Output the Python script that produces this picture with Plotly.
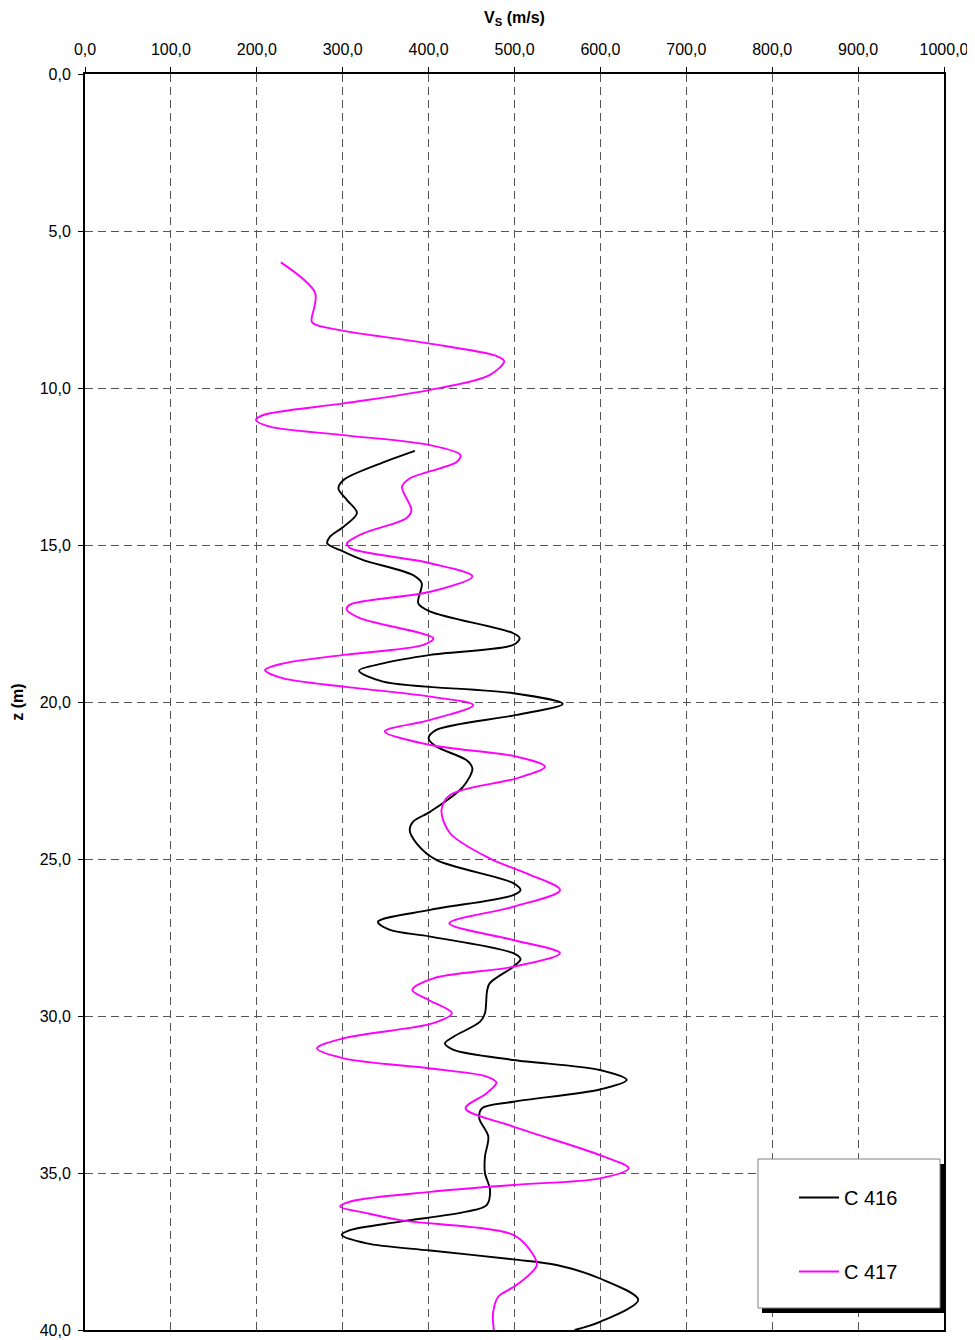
import plotly.graph_objects as go

# C 416 profile (depth z in m, Vs in m/s)
z_416 = [12.0, 12.45, 12.93, 13.2, 13.57, 13.98, 14.42, 14.74, 14.95, 15.21, 15.48, 15.96, 16.22, 16.86,
         17.12, 17.81, 17.97, 18.18, 18.5, 18.77, 19.0, 19.35, 19.72, 20.06, 20.41, 20.89, 21.16, 21.42,
         21.85, 22.11, 22.7, 23.49, 23.81, 24.08, 24.5, 25.03, 25.77, 25.99, 26.15, 26.62, 27.0, 27.26,
         27.47, 28.0, 28.19, 28.43, 28.96, 29.22, 29.91, 30.18, 30.66, 30.87, 31.08, 31.4, 31.72, 32.04,
         32.34, 32.73, 32.94, 33.26, 33.84, 34.48, 35.0, 35.54, 36.02, 36.23, 36.55, 36.82, 36.97, 37.24,
         37.47, 37.75, 37.93, 38.36, 39.04, 39.74, 40.0]
vs_416 = [384, 339.5, 301, 295, 305, 316.6, 301, 285, 282, 301, 324, 382, 392, 388,
          402, 498.6, 506, 498.6, 402, 347, 319, 347, 498.6, 556, 502.5, 409, 400, 409,
          444, 451, 440, 402, 382, 378, 386, 409, 498.6, 507, 498.6, 402, 341, 355,
          402, 498.6, 507, 498.6, 471, 468, 465.6, 460, 429, 419, 429, 498.6, 599.5, 630.6,
          599.5, 498.6, 462, 459, 469.5, 465.6, 465.6, 471.5, 467.6, 444, 367, 308.5, 299, 328,
          402, 498.6, 549, 599.5, 644, 599.5, 570]

# C 417 profile
z_417 = [6.0, 6.98, 7.89, 8.0, 8.18, 8.58, 8.98, 9.14, 9.59, 10.06, 10.49, 10.86, 11.02, 11.23, 11.5,
         11.82, 12.13, 12.35, 12.88, 13.14, 13.89, 14.15, 14.63, 14.95, 15.1, 15.58, 16.0, 16.49, 16.9,
         17.05, 17.33, 17.97, 18.18, 18.5, 18.77, 18.98, 19.25, 19.51, 19.83, 20.1, 20.57, 20.94, 21.37,
         21.74, 22.06, 22.43, 22.96, 23.44, 24.18, 24.98, 25.46, 25.99, 26.52, 27.05, 27.58, 28.0, 28.43,
         28.8, 29.17, 29.49, 29.91, 30.23, 30.71, 31.03, 31.35, 31.67, 31.93, 32.12, 32.46, 32.94, 33.52,
         34.43, 34.85, 35.17, 35.38, 35.6, 35.9, 36.07, 36.28, 36.5, 36.97, 37.45, 37.93, 38.57, 38.94,
         39.47, 40.0]
vs_417 = [228, 268, 264, 270, 301, 400, 479, 488, 471, 402, 301, 207.6, 199, 215, 301,
          402, 437, 433, 378, 369, 380, 374, 324, 305, 308.5, 402, 451, 402, 308.5,
          304.6, 320, 405.5, 394, 301, 231, 209.5, 231, 301, 402, 452, 402, 349, 402,
          502.5, 535.5, 502.5, 425, 415, 425, 471, 514, 553, 498.6, 424, 498.6, 553, 498.6,
          405.5, 381, 400, 427, 405.5, 301, 270, 301, 402, 467.6, 479, 467.6, 443, 498.6,
          599.5, 633, 599.5, 498.6, 402, 310, 297, 328, 367, 498.6, 518, 526, 502.5, 481,
          475, 476]

x_ticks = [0, 100, 200, 300, 400, 500, 600, 700, 800, 900, 1000]
y_ticks = [0, 5, 10, 15, 20, 25, 30, 35, 40]

# page has an 8px body margin: size the figure so the plot area lands at 85..944 x 74..1330
OFF = 8
W, H = 975 - OFF, 1340 - OFF
L, T = 85 - OFF, 74 - OFF
R = W - (944 - OFF)
B = H - (1330 - OFF)
pw, ph = W - L - R, H - T - B


def px(xp):
    return (xp - 85) / pw


def py(yp):
    return 1 - (yp - 74) / ph


fig = go.Figure()
fig.add_trace(go.Scatter(x=vs_416, y=z_416, mode="lines", name="C 416",
                         line=dict(color="black", width=1.9, shape="spline", smoothing=0.9),
                         legendgroup="a"))
fig.add_trace(go.Scatter(x=vs_417, y=z_417, mode="lines", name="C 417",
                         line=dict(color="#FF00FF", width=1.9, shape="spline", smoothing=0.9),
                         legendgroup="b"))

font_family = "Arial, Liberation Sans, sans-serif"

fig.update_layout(
    width=W, height=H,
    margin=dict(l=L, r=R, t=T, b=B, autoexpand=False),
    paper_bgcolor="white", plot_bgcolor="white",
    separators=",.",
    font=dict(family=font_family, size=16, color="black"),
    showlegend=True,
    legend=dict(x=px(794), y=py(1178), xanchor="left", yanchor="top",
                bgcolor="rgba(0,0,0,0)", borderwidth=0,
                font=dict(size=20, family=font_family, color="black"),
                traceorder="grouped", tracegroupgap=45, itemwidth=40),
    xaxis=dict(side="top", range=[0, 1000], tickvals=x_ticks, tickformat=".1f",
               showgrid=True, gridcolor="#555555", gridwidth=1, griddash="8px,5px",
               showline=True, linecolor="black", linewidth=2, mirror=True,
               ticks="outside", ticklen=5, tickcolor="black", ticklabelstandoff=6,
               tickfont=dict(size=16), zeroline=False, automargin=False,
               title=dict(text="<b>V<sub>S</sub> (m/s)</b>", font=dict(size=16), standoff=13)),
    yaxis=dict(range=[40, 0], tickvals=y_ticks, tickformat=".1f",
               showgrid=True, gridcolor="#555555", gridwidth=1, griddash="8px,5px",
               showline=True, linecolor="black", linewidth=2, mirror=True,
               ticks="outside", ticklen=5, tickcolor="black", ticklabelstandoff=4,
               tickfont=dict(size=16), zeroline=False, automargin=False,
               title=dict(text="<b>z (m)</b>", font=dict(size=16), standoff=12)),
    shapes=[
        dict(type="rect", xref="paper", yref="paper", layer="above",
             x0=px(762), x1=px(944), y0=py(1313), y1=py(1164),
             fillcolor="black", line=dict(width=0)),
        dict(type="rect", xref="paper", yref="paper", layer="above",
             x0=px(758), x1=px(940), y0=py(1308), y1=py(1159),
             fillcolor="white", line=dict(color="#808080", width=1)),
    ],
)

fig.write_html("out.html")
